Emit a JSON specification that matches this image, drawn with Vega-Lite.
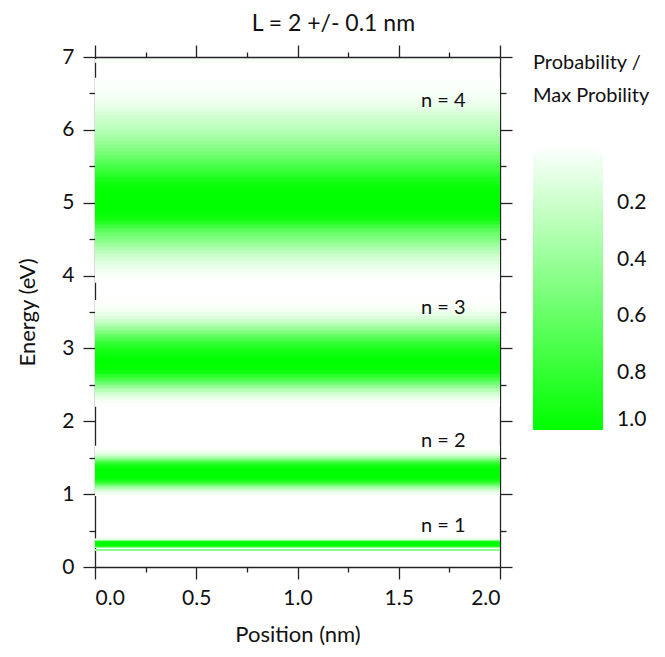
{
  "$schema": "https://vega.github.io/schema/vega-lite/v6.json",
  "width": 405,
  "height": 510,
  "autosize": {"type": "none"},
  "padding": {"left": 95, "top": 57, "right": 165, "bottom": 90},
  "background": "white",
  "title": {"text": "L = 2 +/- 0.1 nm", "fontSize": 23, "font": "Lato", "fontWeight": "normal", "color": "#111", "offset": 8, "anchor": "middle", "frame": "bounds"},
  "datasets": {
    "heat": [
      {"e0":0.22,"e1":0.235,"p":0.45},
      {"e0":0.26,"e1":0.27,"p":0.3},
      {"e0":0.27,"e1":0.28,"p":0.75},
      {"e0":0.28,"e1":0.30,"p":1},
      {"e0":0.30,"e1":0.33,"p":1},
      {"e0":0.33,"e1":0.35,"p":1},
      {"e0":0.35,"e1":0.36,"p":0.8},
      {"e0":0.36,"e1":0.37,"p":0.4},
      {"e0":0.37,"e1":0.38,"p":0.1},
      {"e0":0.975,"e1":1.0,"p":0.02},
      {"e0":1.0,"e1":1.025,"p":0.06},
      {"e0":1.025,"e1":1.05,"p":0.12},
      {"e0":1.05,"e1":1.075,"p":0.22},
      {"e0":1.075,"e1":1.1,"p":0.35},
      {"e0":1.1,"e1":1.125,"p":0.5},
      {"e0":1.125,"e1":1.15,"p":0.66},
      {"e0":1.15,"e1":1.175,"p":0.8},
      {"e0":1.175,"e1":1.2,"p":0.92},
      {"e0":1.2,"e1":1.225,"p":0.98},
      {"e0":1.225,"e1":1.25,"p":1},
      {"e0":1.25,"e1":1.275,"p":1},
      {"e0":1.275,"e1":1.3,"p":1},
      {"e0":1.3,"e1":1.325,"p":1},
      {"e0":1.325,"e1":1.35,"p":0.99},
      {"e0":1.35,"e1":1.375,"p":0.97},
      {"e0":1.375,"e1":1.4,"p":0.93},
      {"e0":1.4,"e1":1.425,"p":0.86},
      {"e0":1.425,"e1":1.45,"p":0.74},
      {"e0":1.45,"e1":1.475,"p":0.58},
      {"e0":1.475,"e1":1.5,"p":0.42},
      {"e0":1.5,"e1":1.525,"p":0.28},
      {"e0":1.525,"e1":1.55,"p":0.17},
      {"e0":1.55,"e1":1.575,"p":0.1},
      {"e0":1.575,"e1":1.6,"p":0.05},
      {"e0":1.6,"e1":1.625,"p":0.02},
      {"e0":1.625,"e1":1.65,"p":0.01},
      {"e0":2.2,"e1":2.25,"p":0.01},
      {"e0":2.25,"e1":2.3,"p":0.04},
      {"e0":2.3,"e1":2.35,"p":0.09},
      {"e0":2.35,"e1":2.4,"p":0.17},
      {"e0":2.4,"e1":2.45,"p":0.28},
      {"e0":2.45,"e1":2.5,"p":0.42},
      {"e0":2.5,"e1":2.55,"p":0.57},
      {"e0":2.55,"e1":2.6,"p":0.71},
      {"e0":2.6,"e1":2.65,"p":0.84},
      {"e0":2.65,"e1":2.7,"p":0.93},
      {"e0":2.7,"e1":2.75,"p":0.98},
      {"e0":2.75,"e1":2.8,"p":1},
      {"e0":2.8,"e1":2.85,"p":1},
      {"e0":2.85,"e1":2.9,"p":0.98},
      {"e0":2.9,"e1":2.95,"p":0.95},
      {"e0":2.95,"e1":3.0,"p":0.91},
      {"e0":3.0,"e1":3.05,"p":0.86},
      {"e0":3.05,"e1":3.1,"p":0.79},
      {"e0":3.1,"e1":3.15,"p":0.7},
      {"e0":3.15,"e1":3.2,"p":0.6},
      {"e0":3.2,"e1":3.25,"p":0.5},
      {"e0":3.25,"e1":3.3,"p":0.4},
      {"e0":3.3,"e1":3.35,"p":0.3},
      {"e0":3.35,"e1":3.4,"p":0.21},
      {"e0":3.4,"e1":3.45,"p":0.14},
      {"e0":3.45,"e1":3.5,"p":0.09},
      {"e0":3.5,"e1":3.55,"p":0.05},
      {"e0":3.55,"e1":3.6,"p":0.03},
      {"e0":3.6,"e1":3.65,"p":0.01},
      {"e0":3.9,"e1":3.95,"p":0.01},
      {"e0":3.95,"e1":4.0,"p":0.02},
      {"e0":4.0,"e1":4.05,"p":0.04},
      {"e0":4.05,"e1":4.1,"p":0.06},
      {"e0":4.1,"e1":4.15,"p":0.09},
      {"e0":4.15,"e1":4.2,"p":0.12},
      {"e0":4.2,"e1":4.25,"p":0.16},
      {"e0":4.25,"e1":4.3,"p":0.21},
      {"e0":4.3,"e1":4.35,"p":0.26},
      {"e0":4.35,"e1":4.4,"p":0.32},
      {"e0":4.4,"e1":4.45,"p":0.39},
      {"e0":4.45,"e1":4.5,"p":0.46},
      {"e0":4.5,"e1":4.55,"p":0.52},
      {"e0":4.55,"e1":4.6,"p":0.58},
      {"e0":4.6,"e1":4.65,"p":0.65},
      {"e0":4.65,"e1":4.7,"p":0.75},
      {"e0":4.7,"e1":4.75,"p":0.85},
      {"e0":4.75,"e1":4.8,"p":0.93},
      {"e0":4.8,"e1":4.85,"p":0.97},
      {"e0":4.85,"e1":4.9,"p":0.99},
      {"e0":4.9,"e1":4.95,"p":1},
      {"e0":4.95,"e1":5.0,"p":1},
      {"e0":5.0,"e1":5.05,"p":1},
      {"e0":5.05,"e1":5.1,"p":1},
      {"e0":5.1,"e1":5.15,"p":0.99},
      {"e0":5.15,"e1":5.2,"p":0.98},
      {"e0":5.2,"e1":5.25,"p":0.96},
      {"e0":5.25,"e1":5.3,"p":0.93},
      {"e0":5.3,"e1":5.35,"p":0.89},
      {"e0":5.35,"e1":5.4,"p":0.84},
      {"e0":5.4,"e1":5.45,"p":0.79},
      {"e0":5.45,"e1":5.5,"p":0.74},
      {"e0":5.5,"e1":5.55,"p":0.69},
      {"e0":5.55,"e1":5.6,"p":0.64},
      {"e0":5.6,"e1":5.65,"p":0.59},
      {"e0":5.65,"e1":5.7,"p":0.54},
      {"e0":5.7,"e1":5.75,"p":0.5},
      {"e0":5.75,"e1":5.8,"p":0.46},
      {"e0":5.8,"e1":5.85,"p":0.41},
      {"e0":5.85,"e1":5.9,"p":0.37},
      {"e0":5.9,"e1":5.95,"p":0.33},
      {"e0":5.95,"e1":6.0,"p":0.3},
      {"e0":6.0,"e1":6.05,"p":0.27},
      {"e0":6.05,"e1":6.1,"p":0.24},
      {"e0":6.1,"e1":6.15,"p":0.21},
      {"e0":6.15,"e1":6.2,"p":0.18},
      {"e0":6.2,"e1":6.25,"p":0.15},
      {"e0":6.25,"e1":6.3,"p":0.12},
      {"e0":6.3,"e1":6.35,"p":0.09},
      {"e0":6.35,"e1":6.4,"p":0.07},
      {"e0":6.4,"e1":6.45,"p":0.05},
      {"e0":6.45,"e1":6.5,"p":0.04},
      {"e0":6.5,"e1":6.55,"p":0.03},
      {"e0":6.55,"e1":6.6,"p":0.02},
      {"e0":6.6,"e1":6.65,"p":0.015},
      {"e0":6.65,"e1":6.7,"p":0.01},
      {"e0":6.92,"e1":6.96,"p":0.04}
    ],
    "labels": [
      {"E": 6.40, "label": "n = 4"},
      {"E": 3.55, "label": "n = 3"},
      {"E": 1.73, "label": "n = 2"},
      {"E": 0.56, "label": "n = 1"}
    ]
  },
  "layer": [
    {
      "data": {"name": "heat"},
      "mark": {"type": "rect", "y2Offset": -1},
      "encoding": {
        "x": {"datum": 0, "type": "quantitative", "scale": {"domain": [0, 2], "nice": false, "zero": false},
              "axis": {"orient": "bottom", "values": [0, 0.5, 1, 1.5, 2], "format": ".1f", "title": "Position (nm)", "labelPadding": 8, "titlePadding": 16}},
        "x2": {"datum": 2},
        "y": {"field": "e0", "type": "quantitative", "scale": {"domain": [0, 7], "nice": false, "zero": false},
              "axis": {"orient": "left", "values": [0, 1, 2, 3, 4, 5, 6, 7], "format": "d", "title": "Energy (eV)", "labelPadding": 9, "titlePadding": 22}},
        "y2": {"field": "e1"},
        "color": {"field": "p", "type": "quantitative",
                  "scale": {"domain": [1, 0], "range": ["#00ff00", "#ffffff"], "interpolate": "rgb"},
                  "legend": {"type": "gradient", "orient": "none", "legendX": 438, "legendY": -4, "direction": "vertical",
                             "gradientLength": 284, "gradientThickness": 70, "gradientStrokeWidth": 0,
                             "title": ["Probability /", "Max Probility"], "titleFontSize": 20, "titleFont": "Lato",
                             "titleFontWeight": "normal", "titleColor": "#111", "titleLineHeight": 33, "titlePadding": 40,
                             "labelFontSize": 21, "labelFont": "Lato", "labelColor": "#111", "labelOffset": 14,
                             "values": [0.2, 0.4, 0.6, 0.8, 1.0], "format": ".1f", "padding": 0, "labelBaseline": "middle"}}
      }
    },
    {
      "data": {"name": "labels"},
      "mark": {"type": "text", "fontSize": 20, "font": "Lato", "color": "#111", "align": "center", "baseline": "middle"},
      "encoding": {
        "x": {"datum": 1.72, "type": "quantitative", "scale": {"domain": [0, 2], "nice": false, "zero": false},
              "axis": {"orient": "top", "values": [0, 0.5, 1, 1.5, 2], "labels": false, "title": null}},
        "y": {"field": "E", "type": "quantitative", "scale": {"domain": [0, 7], "nice": false, "zero": false},
              "axis": {"orient": "right", "values": [0, 1, 2, 3, 4, 5, 6, 7], "labels": false, "title": null}},
        "text": {"field": "label"}
      }
    },
    {
      "data": {"name": "labels"},
      "mark": {"type": "text", "opacity": 0},
      "encoding": {
        "x": {"datum": 1.72, "type": "quantitative", "scale": {"domain": [0, 2], "nice": false, "zero": false},
              "axis": {"orient": "bottom", "values": [0.25, 0.75, 1.25, 1.75], "labels": false, "title": null, "domain": false, "tickSize": 5}},
        "y": {"field": "E", "type": "quantitative", "scale": {"domain": [0, 7], "nice": false, "zero": false},
              "axis": {"orient": "left", "values": [0.5, 1.5, 2.5, 3.5, 4.5, 5.5, 6.5], "labels": false, "title": null, "domain": false, "tickSize": 6}},
        "text": {"field": "label"}
      }
    },
    {
      "data": {"name": "labels"},
      "mark": {"type": "text", "opacity": 0},
      "encoding": {
        "x": {"datum": 1.72, "type": "quantitative", "scale": {"domain": [0, 2], "nice": false, "zero": false},
              "axis": {"orient": "top", "values": [0.25, 0.75, 1.25, 1.75], "labels": false, "title": null, "domain": false, "tickSize": 5}},
        "y": {"field": "E", "type": "quantitative", "scale": {"domain": [0, 7], "nice": false, "zero": false},
              "axis": {"orient": "right", "values": [0.5, 1.5, 2.5, 3.5, 4.5, 5.5, 6.5], "labels": false, "title": null, "domain": false, "tickSize": 6}},
        "text": {"field": "label"}
      }
    }
  ],
  "resolve": {"axis": {"x": "independent", "y": "independent"}},
  "config": {
    "font": "Lato",
    "view": {"stroke": null},
    "axis": {"domainColor": "#222", "tickColor": "#222", "labelColor": "#111", "titleColor": "#111",
             "labelFont": "Lato", "titleFont": "Lato", "labelFontSize": 21, "titleFontSize": 22,
             "titleFontWeight": "normal", "grid": false, "tickSize": 12, "domainWidth": 1.3, "tickWidth": 1.3, "zindex": 1}
  }
}
